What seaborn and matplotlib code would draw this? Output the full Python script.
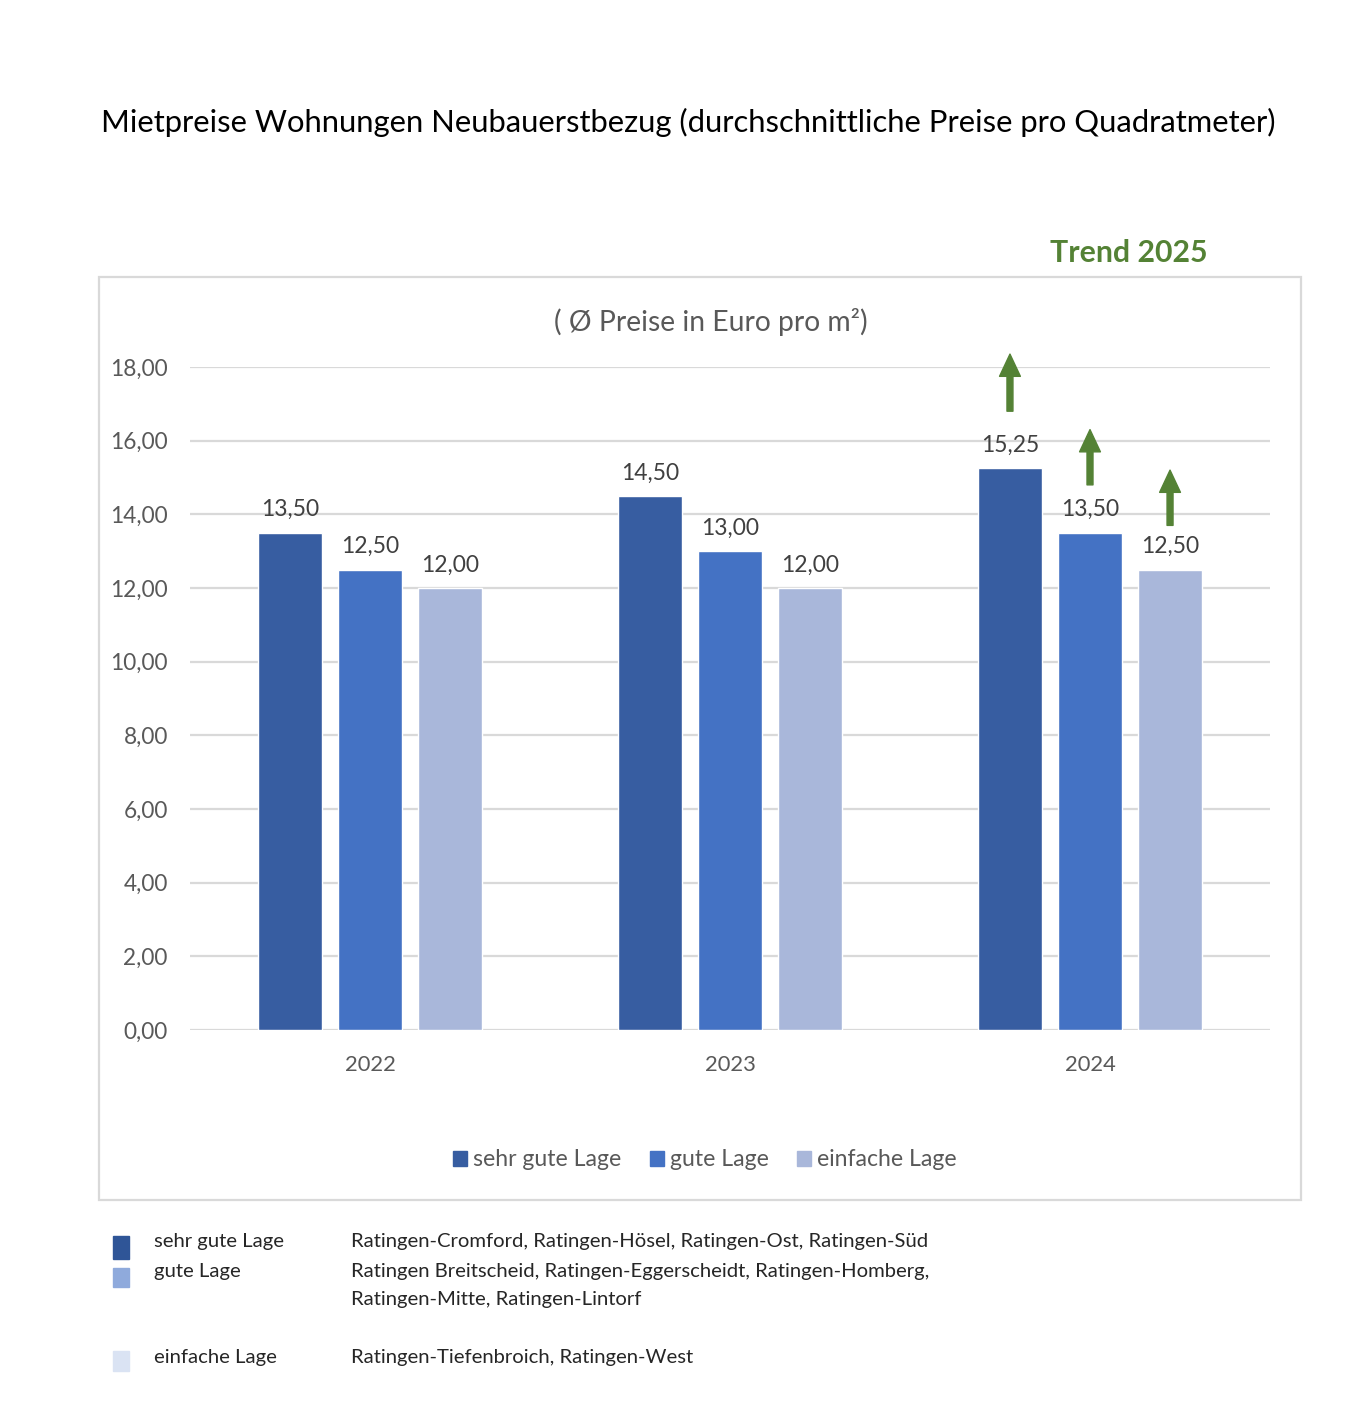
import matplotlib
matplotlib.use("Agg")
import matplotlib.pyplot as plt
import matplotlib.patches as mpatches
import seaborn as sns
import pandas as pd

# ---- data ----
years = ["2022", "2023", "2024"]
lagen = ["sehr gute Lage", "gute Lage", "einfache Lage"]
sehr_gute = [13.50, 14.50, 15.25]
gute = [12.50, 13.00, 13.50]
einfache = [12.00, 12.00, 12.50]
yticks = [0, 2, 4, 6, 8, 10, 12, 14, 16, 18]
# trend arrows for 2025 (start, end) per Lage in 2024
trend_start = [16.8, 14.8, 13.7]
trend_end = [18.35, 16.3, 15.2]

note_labels = ["sehr gute Lage", "gute Lage", "einfache Lage"]
note_texts = [["Ratingen-Cromford, Ratingen-Hösel, Ratingen-Ost, Ratingen-Süd"],
              ["Ratingen Breitscheid, Ratingen-Eggerscheidt, Ratingen-Homberg,",
               "Ratingen-Mitte, Ratingen-Lintorf"],
              ["Ratingen-Tiefenbroich, Ratingen-West"]]

colors = ["#375DA1", "#4472C4", "#A9B7DA"]
note_colors = ["#2F5597", "#8FAADC", "#DAE3F3"]

df = pd.DataFrame({
    "Jahr": years * 3,
    "Lage": [lagen[0]] * 3 + [lagen[1]] * 3 + [lagen[2]] * 3,
    "Preis": sehr_gute + gute + einfache,
})

sns.set_theme(style="white")
plt.rcParams["font.family"] = ["Lato", "DejaVu Sans"]

W, H = 1360, 1407
fig = plt.figure(figsize=(W / 100, H / 100), dpi=100)

def fx(px):
    return px / W

def fy(py):
    return 1 - py / H

ax = fig.add_axes([fx(190), fy(1030), fx(1270) - fx(190), fy(367) - fy(1030)])

sns.barplot(data=df, x="Jahr", y="Preis", hue="Lage", hue_order=lagen,
            palette=colors, width=0.667, gap=0.2, ax=ax, legend=False,
            saturation=1, errorbar=None)

ax.set_ylim(0, 18)
ax.set_xlim(-0.5, 2.5)
ax.set_yticks(yticks)
ax.set_yticklabels([f"{v:.2f}".replace(".", ",") for v in yticks])
ax.set_xlabel("")
ax.set_ylabel("")
ax.grid(axis="y", color="#D9D9D9", linewidth=1.6)
ax.grid(axis="x", visible=False)
ax.set_axisbelow(True)
for s in ax.spines.values():
    s.set_visible(False)
ax.tick_params(axis="y", length=0, pad=16, labelsize=16.3, labelcolor="#595959")
ax.tick_params(axis="x", length=0, pad=18, labelsize=15.8, labelcolor="#595959")

for cont in ax.containers:
    vals = [p.get_height() for p in cont]
    ax.bar_label(cont, labels=[f"{v:.2f}".replace(".", ",") for v in vals],
                 padding=9, fontsize=16.5, color="#404040")

# trend arrows on 2024 bars
for i, cont in enumerate(ax.containers):
    p = cont[2]
    xc = p.get_x() + p.get_width() / 2
    ax.annotate("", xy=(xc, trend_end[i]), xytext=(xc, trend_start[i]),
                arrowprops=dict(width=4.3, headwidth=15, headlength=16,
                                color="#548235", shrink=0),
                annotation_clip=False)

# legend
handles = [mpatches.Patch(color=c, label=l) for c, l in zip(colors, lagen)]
leg = fig.legend(handles=handles, loc="center", bbox_to_anchor=(fx(705), fy(1160)),
                 ncol=3, frameon=False, fontsize=16.6, handlelength=0.6,
                 handleheight=0.6, handletextpad=0.25, columnspacing=1.25)
for t in leg.get_texts():
    t.set_color("#595959")

# chart frame
fig.patches.append(mpatches.Rectangle((fx(99), fy(1200)), fx(1301) - fx(99), fy(277) - fy(1200),
                                      transform=fig.transFigure, fill=False,
                                      edgecolor="#D9D9D9", linewidth=1.6))

# titles
fig.text(fx(688), fy(122), "Mietpreise Wohnungen Neubauerstbezug (durchschnittliche Preise pro Quadratmeter)",
         ha="center", va="center", fontsize=22.3, color="#000000")
fig.text(fx(711), fy(322), "( Ø Preise in Euro pro m²)", ha="center", va="center",
         fontsize=20.3, color="#595959")
fig.text(fx(1129), fy(253), "Trend 2025", ha="center", va="center",
         fontsize=21.8, fontweight="bold", color="#548235")

# notes below chart
rows_y = [[1241], [1271, 1300], [1358]]
sq_y = [(1236, 1259), (1268, 1287), (1351, 1371)]
for i in range(3):
    y0, y1 = sq_y[i]
    fig.patches.append(mpatches.Rectangle((fx(113), fy(y1)), fx(129) - fx(113), fy(y0) - fy(y1),
                                          transform=fig.transFigure, color=note_colors[i]))
    fig.text(fx(154), fy(rows_y[i][0]), note_labels[i], ha="left", va="center",
             fontsize=14.6, color="#262626")
    for line, yy in zip(note_texts[i], rows_y[i]):
        fig.text(fx(351), fy(yy), line, ha="left", va="center",
                 fontsize=14.6, color="#262626")

fig.savefig("out.png", dpi=100)
